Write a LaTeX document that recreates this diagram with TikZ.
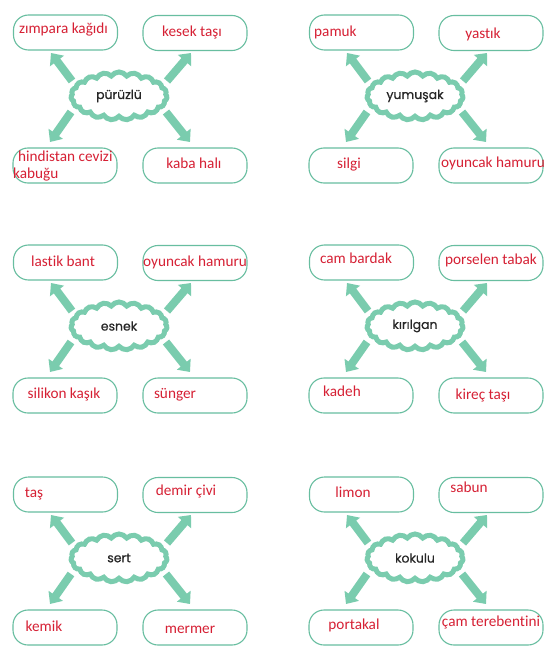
\documentclass[tikz,border=0pt]{standalone}
\usepackage{fontspec}
\setmainfont{Carlito}[Ligatures={NoCommon,NoRequired,NoContextual}]
\newfontfamily\cloudfont{Poppins}[FakeBold=0.6]
\usetikzlibrary{shapes.symbols,arrows.meta}
\definecolor{mint}{RGB}{122,204,174}
\definecolor{mintline}{RGB}{104,190,160}
\definecolor{redtxt}{RGB}{214,32,52}
\tikzset{
  cloudbox/.style={cloud, cloud puffs=19, cloud puff arc=110, aspect=2.1,
    minimum width=96bp, minimum height=48bp, inner sep=0pt,
    draw=mint, line width=5bp, fill=white,
    font=\cloudfont\fontsize{12.5}{14}\selectfont, text=black!85},
  itembox/.style={rectangle, rounded corners=15bp, draw=mintline, line width=1.1bp,
    fill=white, minimum width=104bp, minimum height=35bp, inner sep=0pt},
  itemtxt/.style={font=\fontsize{15.3}{17}\selectfont, text=redtxt, inner sep=0pt, anchor=base},
  itemtxtl/.style={itemtxt, anchor=base west},
  blockarrow/.style={draw=mint, line width=8bp, -{Triangle[length=10bp,width=17bp]}}
}
\newcommand\mycluster[4]{%
  \begin{scope}[shift={(#2,#3)}]
    \node[itembox] (#1a) at (65.5,32.5) {};
    \node[itembox] (#1b) at (195,33) {};
    \node[itembox] (#1c) at (65,165.5) {};
    \node[itembox] (#1d) at (195,165.5) {};
    \coordinate (#1as) at (72,81);  \coordinate (#1ae) at (51,53);
    \coordinate (#1bs) at (167,81); \coordinate (#1be) at (191,53);
    \coordinate (#1cs) at (71,112); \coordinate (#1ce) at (50,142);
    \coordinate (#1ds) at (166,112); \coordinate (#1de) at (190,142);
    \draw[blockarrow] (#1as) -- (#1ae);
    \draw[blockarrow] (#1bs) -- (#1be);
    \draw[blockarrow] (#1cs) -- (#1ce);
    \draw[blockarrow] (#1ds) -- (#1de);
    \node[cloudbox] (#1w) at (119,96) {#4};
  \end{scope}}
\begin{document}
\begin{tikzpicture}[x=1bp,y=-1bp]
\useasboundingbox[fill=white] (0,0) rectangle (552,661);
\mycluster{p}{0}{0}{pürüzlü}
\mycluster{y}{296}{0}{yumuşak}
\mycluster{e}{0}{230}{esnek}
\mycluster{k}{296}{230}{kırılgan}
\mycluster{s}{0}{462}{sert}
\mycluster{o}{296}{462}{kokulu}
% cluster 1
\node[itemtxt] (t1) at (63.5,33.5) {zımpara kağıdı};
\node[itemtxt] (t2) at (192,36.5) {kesek taşı};
\node[itemtxtl] (t3) at (18,161.5) {hindistan cevizi};
\node[itemtxtl] (t4) at (13,178.5) {kabuğu};
\node[itemtxt] (t5) at (194,168.5) {kaba halı};
% cluster 2
\node[itemtxtl] (t6) at (314,36.5) {pamuk};
\node[itemtxt] (t7) at (483,38.5) {yastık};
\node[itemtxt] (t8) at (349,168.5) {silgi};
\node[itemtxt] (t9) at (493,167.5) {oyuncak hamuru};
% cluster 3
\node[itemtxt] (t10) at (63,266.5) {lastik bant};
\node[itemtxt] (t11) at (195,266.5) {oyuncak hamuru};
\node[itemtxt] (t12) at (64,398.5) {silikon kaşık};
\node[itemtxt] (t13) at (175,398.5) {sünger};
% cluster 4
\node[itemtxt] (t14) at (356,263.5) {cam bardak};
\node[itemtxt] (t15) at (491,264.5) {porselen tabak};
\node[itemtxt] (t16) at (342,396.5) {kadeh};
\node[itemtxt] (t17) at (483,399.5) {kireç taşı};
% cluster 5
\node[itemtxt] (t18) at (34,497.5) {taş};
\node[itemtxt] (t19) at (186,495.5) {demir çivi};
\node[itemtxt] (t20) at (44,631.5) {kemik};
\node[itemtxt] (t21) at (190,633.5) {mermer};
% cluster 6
\node[itemtxt] (t22) at (353,497.5) {limon};
\node[itemtxt] (t23) at (469,492.5) {sabun};
\node[itemtxt] (t24) at (354,629.5) {portakal};
\node[itemtxt] (t25) at (491,626.5) {çam terebentini};
\end{tikzpicture}
\end{document}
